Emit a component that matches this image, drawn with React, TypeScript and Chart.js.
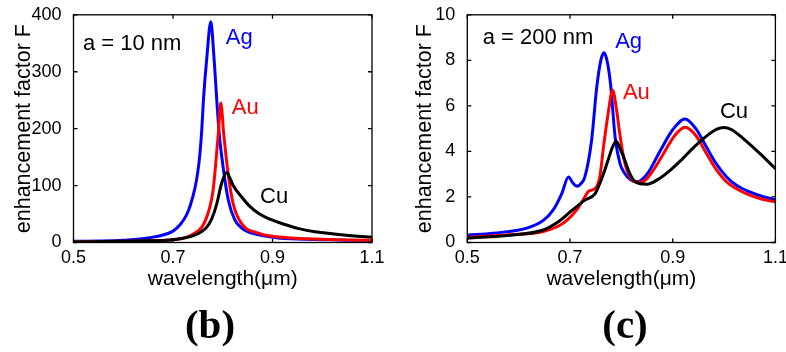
import React, { useEffect, useRef } from "react";
import { Chart, registerables } from "chart.js";

Chart.register(...registerables);

// ---------- shared ----------
const xTickValues = [0.5, 0.7, 0.9, 1.1];

// ---------- panel (b): a = 10 nm ----------
const agB_x = [0.5, 0.55, 0.6, 0.65, 0.7, 0.715, 0.727, 0.735, 0.744, 0.75, 0.754, 0.758, 0.761, 0.768, 0.776, 0.782, 0.788, 0.793, 0.801, 0.811, 0.824, 0.836, 0.848, 0.875, 0.908, 0.95, 1.0, 1.05, 1.1];
const agB_y = [2, 2.5, 4, 8, 20, 32, 48, 66, 95, 125, 155, 200, 248, 325, 388, 330, 250, 190, 131, 75, 40, 27, 20, 13, 8.5, 6, 5, 4, 3.5];

const auB_x = [0.5, 0.6, 0.65, 0.7, 0.727, 0.745, 0.758, 0.768, 0.774, 0.78, 0.784, 0.791, 0.796, 0.802, 0.811, 0.821, 0.838, 0.87, 0.9, 0.94, 1.0, 1.05, 1.1];
const auB_y = [1, 2, 3, 5, 9, 17, 27, 45, 62, 88, 120, 190, 245, 190, 120, 68, 33, 17, 11, 8, 5.5, 4.5, 4];

const cuB_x = [0.5, 0.6, 0.65, 0.694, 0.72, 0.741, 0.757, 0.768, 0.778, 0.788, 0.798, 0.808, 0.815, 0.821, 0.838, 0.855, 0.874, 0.895, 0.92, 0.955, 0.985, 1.02, 1.06, 1.1];
const cuB_y = [1, 2, 3, 4.5, 7.5, 12, 19, 27, 42, 68, 105, 123, 112, 100, 80, 63, 50, 41, 33, 24, 19, 15.5, 12, 9.5];

const yTicksB = [0, 100, 200, 300, 400];

// ---------- panel (c): a = 200 nm ----------
const agC_x = [0.5, 0.551, 0.616, 0.648, 0.667, 0.684, 0.697, 0.706, 0.714, 0.722, 0.729, 0.742, 0.752, 0.76, 0.766, 0.772, 0.779, 0.788, 0.797, 0.806, 0.818, 0.83, 0.85, 0.875, 0.9, 0.924, 0.945, 0.966, 0.985, 1.005, 1.025, 1.05, 1.075, 1.1];
const agC_y = [0.32, 0.41, 0.63, 0.97, 1.42, 2.15, 2.88, 2.6, 2.47, 2.6, 2.88, 4.48, 6.8, 8.0, 8.33, 8.0, 6.95, 4.6, 3.5, 3.05, 2.75, 2.66, 3.0, 4.0, 4.95, 5.42, 5.0, 4.18, 3.45, 2.88, 2.5, 2.22, 2.02, 1.87];

const auC_x = [0.5, 0.583, 0.648, 0.687, 0.713, 0.729, 0.736, 0.749, 0.758, 0.766, 0.775, 0.783, 0.791, 0.797, 0.804, 0.811, 0.827, 0.84, 0.86, 0.882, 0.904, 0.924, 0.945, 0.966, 0.985, 1.005, 1.025, 1.05, 1.075, 1.1];
const auC_y = [0.23, 0.34, 0.48, 0.85, 1.43, 2.0, 2.25, 2.37, 2.88, 4.33, 5.78, 6.69, 5.78, 4.77, 3.8, 3.17, 2.66, 2.66, 3.1, 3.9, 4.7, 5.06, 4.7, 3.9, 3.2, 2.66, 2.35, 2.08, 1.9, 1.78];

const cuC_x = [0.5, 0.583, 0.648, 0.678, 0.705, 0.729, 0.749, 0.758, 0.768, 0.775, 0.783, 0.79, 0.798, 0.807, 0.815, 0.824, 0.837, 0.85, 0.87, 0.895, 0.918, 0.941, 0.97, 0.985, 0.999, 1.015, 1.038, 1.07, 1.1];
const cuC_y = [0.19, 0.32, 0.55, 0.92, 1.43, 1.86, 2.15, 2.59, 3.2, 3.68, 4.2, 4.45, 4.1, 3.6, 3.1, 2.73, 2.58, 2.56, 2.75, 3.17, 3.65, 4.18, 4.75, 4.97, 5.05, 4.95, 4.55, 3.9, 3.24];

const yTicksC = [0, 2, 4, 6, 8, 10];

const BLUE = "#0000ff";
const RED = "#ff0000";
const BLACK = "#000000";
const FONT = '"Liberation Sans", Arial, Helvetica, sans-serif';

type Series = { label: string; xs: number[]; ys: number[]; color: string };
type Note = { text: string; x: number; y: number; color: string };
type Panel = {
  series: Series[];
  yMax: number;
  yTicks: number[];
  yWidth: number;
  padRight: number;
  yTitlePad: number;
  notes: Note[];
  panelLabel: string;
  panelLabelX: number;
};

const panelB: Panel = {
  series: [
    { label: "Cu", xs: cuB_x, ys: cuB_y, color: BLACK },
    { label: "Au", xs: auB_x, ys: auB_y, color: RED },
    { label: "Ag", xs: agB_x, ys: agB_y, color: BLUE },
  ],
  yMax: 400,
  yTicks: yTicksB,
  yWidth: 73.5,
  padRight: 21,
  yTitlePad: 11,
  notes: [
    { text: "a = 10 nm", x: 0.519, y: 339, color: BLACK },
    { text: "Ag", x: 0.806, y: 348, color: BLUE },
    { text: "Au", x: 0.818, y: 225, color: RED },
    { text: "Cu", x: 0.875, y: 70, color: BLACK },
  ],
  panelLabel: "(b)",
  panelLabelX: 210,
};

const panelC: Panel = {
  series: [
    { label: "Cu", xs: cuC_x, ys: cuC_y, color: BLACK },
    { label: "Au", xs: auC_x, ys: auC_y, color: RED },
    { label: "Ag", xs: agC_x, ys: agC_y, color: BLUE },
  ],
  yMax: 10,
  yTicks: yTicksC,
  yWidth: 74.3,
  padRight: 10.6,
  yTitlePad: 19,
  notes: [
    { text: "a = 200 nm", x: 0.53, y: 8.7, color: BLACK },
    { text: "Ag", x: 0.788, y: 8.53, color: BLUE },
    { text: "Au", x: 0.803, y: 6.31, color: RED },
    { text: "Cu", x: 0.992, y: 5.48, color: BLACK },
  ],
  panelLabel: "(c)",
  panelLabelX: 232,
};

function framePlugin(p: Panel) {
  return {
    id: "frame",
    afterDatasetsDraw(chart: any) {
      const { ctx, chartArea } = chart;
      const xs = chart.scales.x;
      const ys = chart.scales.y;
      const { left, right, top, bottom } = chartArea;
      ctx.save();
      ctx.strokeStyle = "#000";
      ctx.lineWidth = 1.3;
      ctx.strokeRect(left, top, right - left, bottom - top);
      const tl = 4;
      ctx.beginPath();
      for (const v of xTickValues) {
        const px = xs.getPixelForValue(v);
        ctx.moveTo(px, bottom);
        ctx.lineTo(px, bottom - tl);
        ctx.moveTo(px, top);
        ctx.lineTo(px, top + tl);
      }
      for (const v of p.yTicks) {
        const py = ys.getPixelForValue(v);
        ctx.moveTo(left, py);
        ctx.lineTo(left + tl, py);
        ctx.moveTo(right, py);
        ctx.lineTo(right - tl, py);
      }
      ctx.stroke();

      ctx.font = `22px ${FONT}`;
      ctx.textAlign = "left";
      ctx.textBaseline = "alphabetic";
      for (const n of p.notes) {
        ctx.fillStyle = n.color;
        ctx.fillText(n.text, xs.getPixelForValue(n.x), ys.getPixelForValue(n.y));
      }

      ctx.fillStyle = "#000";
      ctx.font = `bold 41px "Liberation Serif", "Times New Roman", serif`;
      ctx.textAlign = "center";
      ctx.fillText(p.panelLabel, p.panelLabelX, 338);
      ctx.restore();
    },
  };
}

function makeChart(canvas: HTMLCanvasElement, p: Panel) {
  return new Chart(canvas, {
    type: "line",
    data: {
      datasets: p.series.map((s) => ({
        label: s.label,
        data: s.xs.map((x, i) => ({ x, y: s.ys[i] })),
        borderColor: s.color,
        backgroundColor: s.color,
        borderWidth: 3,
        pointRadius: 0,
        fill: false,
        cubicInterpolationMode: "monotone" as const,
      })),
    },
    options: {
      animation: false,
      responsive: false,
      devicePixelRatio: 1,
      layout: { padding: { left: 0, right: p.padRight, top: 13, bottom: 61.5 } },
      plugins: {
        legend: { display: false },
        tooltip: { enabled: false },
        title: { display: false },
      },
      scales: {
        x: {
          type: "linear",
          min: 0.5,
          max: 1.1,
          afterBuildTicks: (s: any) => {
            s.ticks = xTickValues.map((v) => ({ value: v }));
          },
          afterFit: (s: any) => {
            s.height = 48;
          },
          grid: { display: false },
          border: { display: false },
          ticks: {
            color: "#000",
            font: { family: FONT, size: 18 },
            padding: -3,
            maxRotation: 0,
            autoSkip: false,
            callback: (v: any) => Number(v).toFixed(1),
          },
          title: {
            display: true,
            text: "wavelength(μm)",
            color: "#000",
            font: { family: FONT, size: 21 },
            padding: { top: 0, bottom: -1 },
          },
        },
        y: {
          type: "linear",
          min: 0,
          max: p.yMax,
          afterBuildTicks: (s: any) => {
            s.ticks = p.yTicks.map((v) => ({ value: v }));
          },
          afterFit: (s: any) => {
            s.width = p.yWidth;
          },
          grid: { display: false },
          border: { display: false },
          ticks: {
            color: "#000",
            font: { family: FONT, size: 18 },
            padding: 4,
            callback: (v: any) => String(v),
          },
          title: {
            display: true,
            text: "enhancement factor F",
            color: "#000",
            font: { family: FONT, size: 21.5 },
            padding: { top: p.yTitlePad, bottom: 0 },
          },
        },
      },
    },
    plugins: [framePlugin(p)],
  } as any);
}

function PanelChart({ panel, left }: { panel: Panel; left: number }) {
  const ref = useRef<HTMLCanvasElement | null>(null);
  useEffect(() => {
    if (!ref.current) return;
    const c = makeChart(ref.current, panel);
    return () => c.destroy();
  }, [panel]);
  return (
    <canvas
      ref={ref}
      width={393}
      height={352}
      style={{ position: "absolute", left, top: 0, width: 393, height: 352 }}
    />
  );
}

export default function App() {
  return (
    <div style={{ position: "absolute", left: 0, top: 0, width: 786, height: 352, background: "#fff", overflow: "hidden" }}>
      <PanelChart panel={panelB} left={0} />
      <PanelChart panel={panelC} left={393} />
    </div>
  );
}
